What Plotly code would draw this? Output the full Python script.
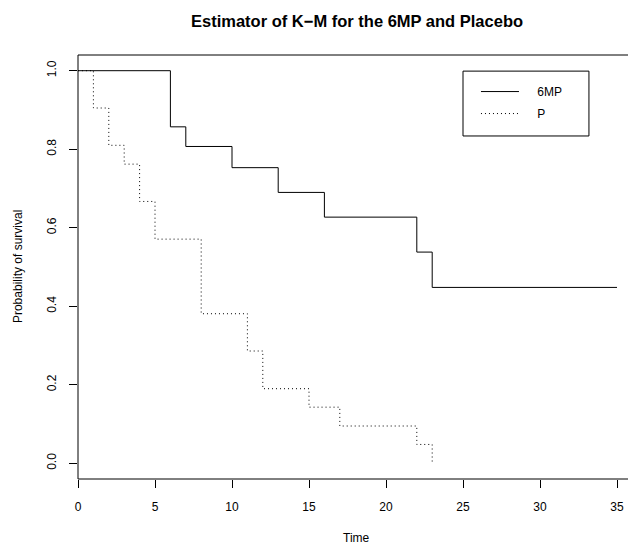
import plotly.graph_objects as go

# Kaplan-Meier step estimates (event times and survival after each event)
t_6mp = [0, 6, 7, 10, 13, 16, 22, 23, 35]
s_6mp = [1.0, 0.857, 0.807, 0.753, 0.690, 0.627, 0.538, 0.448, 0.448]

t_plac = [0, 1, 2, 3, 4, 5, 8, 11, 12, 15, 17, 22, 23]
s_plac = [1.0, 0.905, 0.810, 0.762, 0.667, 0.571, 0.381, 0.286, 0.190, 0.143, 0.095, 0.048, 0.0]

x_ticks = [0, 5, 10, 15, 20, 25, 30, 35]
y_ticks = [0.0, 0.2, 0.4, 0.6, 0.8, 1.0]
y_ticklabels = ["0.0", "0.2", "0.4", "0.6", "0.8", "1.0"]

FONT = "Liberation Sans, Arial, Helvetica, sans-serif"
PAD = "\u00a0" * 4  # gap between legend sample line and its label

fig = go.Figure()
fig.add_trace(go.Scatter(
    x=t_6mp, y=s_6mp, mode="lines", name=PAD + "6MP", legendgroup="a",
    line=dict(color="black", width=1, shape="hv"),
))
fig.add_trace(go.Scatter(
    x=t_plac, y=s_plac, mode="lines", name=PAD + "P", legendgroup="b",
    line=dict(color="black", width=1, shape="hv", dash="1px,3px"),
))

# plot frame: top, bottom and left edges
frame = dict(type="line", xref="paper", yref="paper",
             line=dict(color="black", width=1), layer="above")
shapes = [
    dict(frame, x0=0, x1=1, y0=1, y1=1),
    dict(frame, x0=0, x1=1, y0=0, y1=0),
    dict(frame, x0=0, x1=0, y0=0, y1=1),
    # border around the legend entries
    dict(type="rect", xref="paper", yref="paper",
         x0=0.700, x1=0.929, y0=0.809, y1=0.962,
         line=dict(color="black", width=1), fillcolor="rgba(0,0,0,0)",
         layer="above"),
]

annotations = [
    dict(text="<b>Estimator of K\u2212M for the 6MP and Placebo</b>",
         xref="paper", yref="paper", x=0.507, y=1.080,
         xanchor="center", yanchor="middle", showarrow=False,
         font=dict(family=FONT, size=16.5, color="black")),
    dict(text="Time", xref="paper", yref="paper", x=0.507, y=-0.1384,
         xanchor="center", yanchor="middle", showarrow=False,
         font=dict(family=FONT, size=12, color="black")),
    dict(text="Probability of survival", xref="paper", yref="paper",
         x=-0.109, y=0.5, textangle=-90,
         xanchor="center", yanchor="middle", showarrow=False,
         font=dict(family=FONT, size=12, color="black")),
]

fig.update_layout(
    width=628, height=544,
    margin=dict(l=78, r=0, t=55, b=65),
    paper_bgcolor="white", plot_bgcolor="white",
    font=dict(family=FONT, size=12, color="black"),
    shapes=shapes,
    annotations=annotations,
    showlegend=True,
    legend=dict(
        x=0.7236, y=0.948, xanchor="left", yanchor="top",
        borderwidth=0, bgcolor="rgba(0,0,0,0)",
        font=dict(family=FONT, size=12, color="black"),
        itemwidth=38, tracegroupgap=3, traceorder="grouped",
    ),
)

fig.update_xaxes(
    range=[0, 35.714], tickmode="array", tickvals=x_ticks,
    ticks="outside", ticklen=8, tickwidth=1, tickcolor="black",
    ticklabelstandoff=9,
    showgrid=False, zeroline=False, showline=False,
    tickfont=dict(family=FONT, size=12, color="black"),
)
fig.update_yaxes(
    range=[-0.04, 1.04], tickmode="array", tickvals=y_ticks,
    ticktext=y_ticklabels, tickangle=-90,
    ticks="outside", ticklen=8, tickwidth=1, tickcolor="black",
    ticklabelstandoff=8,
    showgrid=False, zeroline=False, showline=False,
    tickfont=dict(family=FONT, size=12, color="black"),
)

fig.write_html("out.html")
